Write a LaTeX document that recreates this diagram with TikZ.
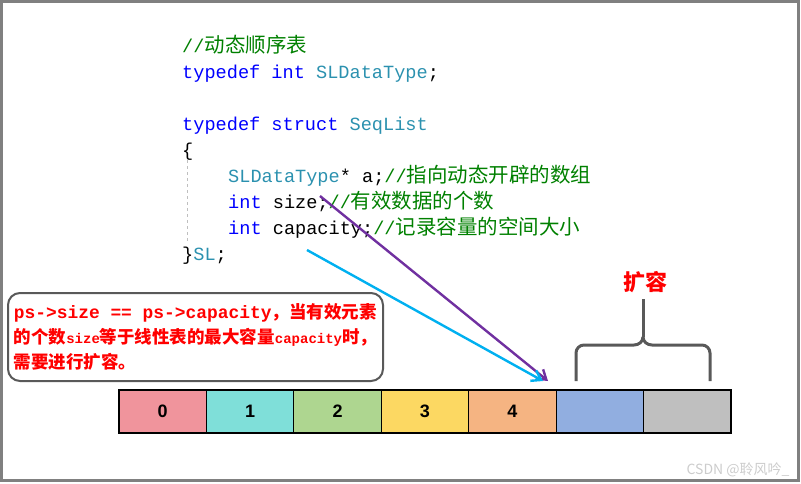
\documentclass[tikz,border=0pt]{standalone}
\usepackage{fontspec}
\usepackage{tikz}
\usepackage{xcolor}
\usetikzlibrary{positioning,arrows.meta}
\setmainfont{Liberation Sans}
\setmonofont{Liberation Mono}
\newfontfamily\cjk{Noto Sans CJK SC}
\definecolor{kwblue}{RGB}{0,0,255}
\definecolor{tyteal}{RGB}{43,145,175}
\definecolor{cmgreen}{RGB}{0,128,0}
\definecolor{notered}{RGB}{255,0,0}
\definecolor{arrpurple}{RGB}{112,48,160}
\definecolor{arrblue}{RGB}{0,176,240}
\definecolor{cellA}{RGB}{240,148,156}
\definecolor{cellB}{RGB}{127,223,217}
\definecolor{cellC}{RGB}{174,214,144}
\definecolor{cellD}{RGB}{252,216,98}
\definecolor{cellE}{RGB}{245,180,130}
\definecolor{cellF}{RGB}{145,174,224}
\definecolor{cellG}{RGB}{191,191,191}
\newcommand{\kwd}[1]{\textcolor{kwblue}{#1}}
\newcommand{\typ}[1]{\textcolor{tyteal}{#1}}
\newcommand{\cmt}[1]{\textcolor{cmgreen}{#1}}
\newcommand{\zhtext}[1]{{\cjk\fontsize{20.5}{26}\selectfont #1}}
\newcommand{\zhbold}[1]{{\cjk\bfseries\fontsize{17.5}{25}\selectfont #1}}
\newcommand{\smalltt}[1]{{\fontsize{14}{25}\selectfont #1}}

\begin{document}
\begin{tikzpicture}[x=1pt, y=-1pt,
    codeline/.style={anchor=base west, inner sep=0pt, font=\ttfamily\fontsize{18.6}{26}\selectfont},
    cell/.style={draw, line width=1.2pt, minimum width=87.43pt, minimum height=43pt,
      inner sep=0pt, outer sep=0pt, font=\bfseries\fontsize{18}{20}\selectfont},
    ptr/.style={line width=2.4pt, -{Straight Barb[length=9pt,width=12pt]}},
    bracket/.style={black!65, line width=3pt, line join=round}]
    \useasboundingbox (0,0) rectangle (801,483);
    \draw[gray, line width=3pt] (1.5,1.5) rectangle (798.5,480.5);

    % Code
    \node[codeline] (l1) at (182,52) {\cmt{//\zhtext{动态顺序表}}};
    \node[codeline] (l2) at (182,78) {\kwd{typedef} \kwd{int} \typ{SLDataType};};
    \node[codeline] (l3) at (182,130) {\kwd{typedef} \kwd{struct} \typ{SeqList}};
    \node[codeline] (l4) at (182,156) {\{};
    \node[codeline] (l5) at (228,182) {\typ{SLDataType}* a;\cmt{//\zhtext{指向动态开辟的数组}}};
    \node[codeline] (l6) at (228,208) {\kwd{int} size;\cmt{//\zhtext{有效数据的个数}}};
    \node[codeline] (l7) at (228,234) {\kwd{int} capacity;\cmt{//\zhtext{记录容量的空间大小}}};
    \node[codeline] (l8) at (182,260) {\}\typ{SL};};
    \draw[gray!50, dashed, line width=0.8pt] (187,160) -- (187,242);

    % Note
    \node[draw=black!65, line width=2pt, rounded corners=12pt, minimum width=375pt,
      minimum height=88pt, align=left, text=notered,
      font=\ttfamily\bfseries\fontsize{17.9}{25}\selectfont] (note) at (195.5,337)
      {ps->size == ps->capacity\zhbold{，当有效元素}\\
       \zhbold{的个数}\smalltt{size}\zhbold{等于线性表的最大容量}\smalltt{capacity}\zhbold{时，}\\
       \zhbold{需要进行扩容。}};

    % Array
    \node[cell, fill=cellA] (c0) at (162.7,411.5) {0};
    \node[cell, fill=cellB, right=0pt of c0] (c1) {1};
    \node[cell, fill=cellC, right=0pt of c1] (c2) {2};
    \node[cell, fill=cellD, right=0pt of c2] (c3) {3};
    \node[cell, fill=cellE, right=0pt of c3] (c4) {4};
    \node[cell, fill=cellF, right=0pt of c4] (c5) {};
    \node[cell, fill=cellG, right=0pt of c5] (c6) {};

    % Pointers
    \coordinate (sizept) at (320,196);
    \coordinate (cappt) at (307,250);
    \coordinate (tipA) at (548,381);
    \coordinate (tipB) at (543,381);
    \draw[ptr, arrpurple] (sizept) -- (tipA);
    \draw[ptr, arrblue] (cappt) -- (tipB);

    % Grow
    \node[text=notered, font=\cjk\bfseries\fontsize{22}{24}\selectfont] (grow) at (645,282) {扩容};
    \coordinate (cusp) at (643,337);
    \draw[bracket] (576,381) -- (576,353) arc[start angle=180, end angle=270, radius=8] -- (634,345)
      to[out=0, in=-90] (cusp);
    \draw[bracket] (710,381) -- (710,353) arc[start angle=0, end angle=-90, radius=8] -- (652,345)
      to[out=180, in=-90] (cusp);
    \draw[bracket] (cusp) -- (643,299);

    \node[anchor=base east, text=gray!40, font=\cjk\fontsize{14}{14}\selectfont] (mark) at (793,474) {CSDN @聆风吟\_};
\end{tikzpicture}
\end{document}
